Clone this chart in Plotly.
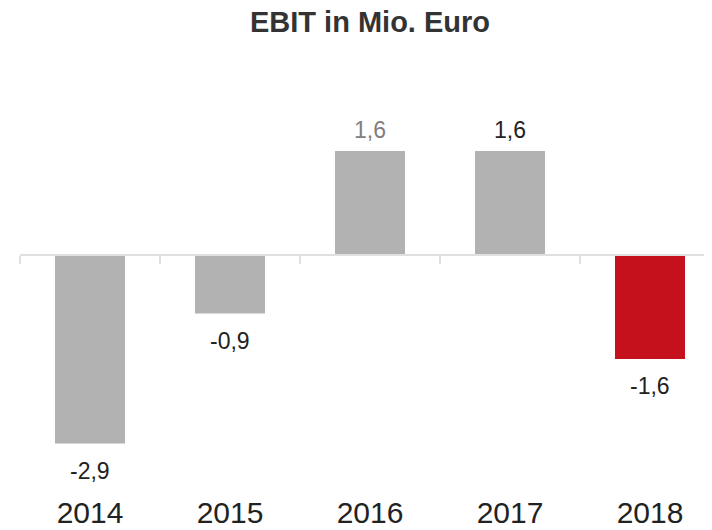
import plotly.graph_objects as go

years = ["2014", "2015", "2016", "2017", "2018"]
ebit = [-2.9, -0.9, 1.6, 1.6, -1.6]
labels = ["-2,9", "-0,9", "1,6", "1,6", "-1,6"]
bar_colors = ["#b2b2b2", "#b2b2b2", "#b2b2b2", "#b2b2b2", "#c4111b"]
label_colors = ["#222222", "#222222", "#808080", "#222222", "#222222"]

# the page body has an 8px default margin, so the figure is sized to the rest of the window
W, H = 704, 522
mt, mb, ml, mr = 72, 38, 12, 0
px_per_unit = 65.0
plot_h = H - mt - mb
y_max = 175 / px_per_unit
y_min = y_max - plot_h / px_per_unit
plot_w = W - ml - mr
x_max = -0.5 + plot_w / 140.0
zero_pos = (0 - y_min) / (y_max - y_min)
FONT = "Liberation Sans, Arial, sans-serif"

fig = go.Figure()
fig.add_trace(go.Bar(
    x=years, y=ebit, marker=dict(color=bar_colors, line=dict(width=0)),
    width=0.5, showlegend=False, hoverinfo="skip",
))
# invisible trace on the overlay axis carrying the zero line with boundary ticks
fig.add_trace(go.Scatter(
    x=years, y=[0] * len(years), xaxis="x2", mode="markers",
    marker=dict(opacity=0), showlegend=False, hoverinfo="skip",
))

for i, (v, t, c) in enumerate(zip(ebit, labels, label_colors)):
    fig.add_annotation(
        x=i, y=v, xref="x", yref="y", text=t, showarrow=False,
        yshift=21 if v > 0 else -27, yanchor="middle",
        font=dict(family=FONT, size=23, color=c),
    )

fig.update_layout(
    width=W, height=H,
    margin=dict(l=ml, r=mr, t=mt, b=mb, autoexpand=False),
    paper_bgcolor="white", plot_bgcolor="white",
    title=dict(
        text="<b>EBIT in Mio. Euro</b>", x=362 / W, xanchor="center",
        y=1 - 14 / H, yanchor="middle",
        font=dict(family=FONT, size=29, color="#333333"),
    ),
    bargap=0.5,
    xaxis=dict(
        type="category", categoryorder="array", categoryarray=years,
        range=[-0.5, x_max], showline=False, showgrid=False, zeroline=False,
        automargin=False, ticks="",
        tickfont=dict(family=FONT, size=30, color="#222222"),
    ),
    xaxis2=dict(
        type="category", categoryorder="array", categoryarray=years,
        overlaying="x", anchor="free", position=zero_pos, matches="x",
        showline=True, linecolor="#e0e0e0", linewidth=2, automargin=False,
        ticks="outside", tickson="boundaries", ticklen=8, tickcolor="#e0e0e0", tickwidth=2,
        showticklabels=False, showgrid=False, zeroline=False,
    ),
    yaxis=dict(range=[y_min, y_max], visible=False, showgrid=False, zeroline=False,
               automargin=False),
)

fig.write_html("out.html")
